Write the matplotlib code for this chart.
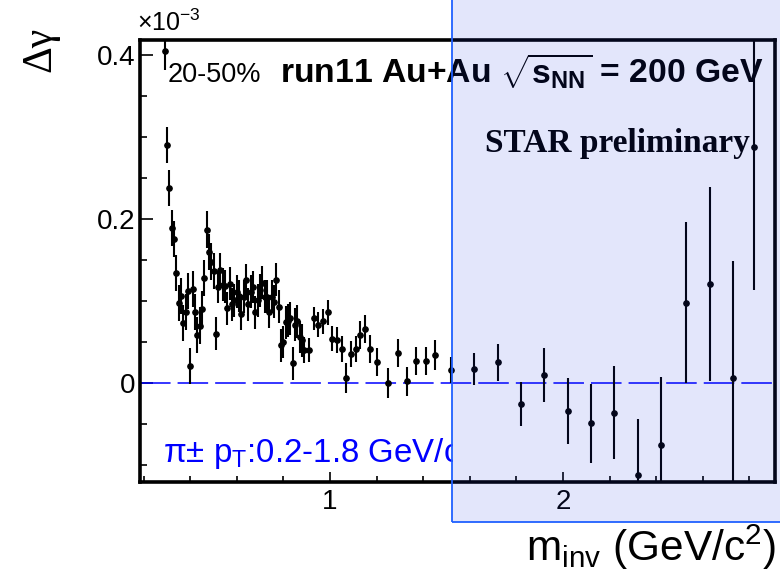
import matplotlib
matplotlib.use('Agg')
import matplotlib.pyplot as plt
import matplotlib.patches as patches
from matplotlib.ticker import MultipleLocator, FuncFormatter

plt.rcParams['font.family'] = ['Liberation Sans', 'DejaVu Sans']
plt.rcParams['mathtext.fontset'] = 'custom'
plt.rcParams['mathtext.rm'] = 'Liberation Sans'
plt.rcParams['mathtext.bf'] = 'Liberation Sans:bold'
plt.rcParams['mathtext.it'] = 'Liberation Sans:italic'

# invariant mass (GeV/c^2), 10 MeV bins at low mass
minv_low = [0.29, 0.30, 0.31, 0.32, 0.33, 0.34, 0.35, 0.36, 0.37, 0.38,
            0.39, 0.40, 0.41, 0.42, 0.43, 0.44, 0.45, 0.46, 0.47, 0.48,
            0.49, 0.50, 0.51, 0.52, 0.53, 0.54, 0.55, 0.56, 0.57, 0.58,
            0.59, 0.60, 0.61, 0.62, 0.63, 0.64, 0.65, 0.66, 0.67, 0.68,
            0.69, 0.70, 0.71, 0.72, 0.73, 0.74, 0.75, 0.76, 0.77, 0.78,
            0.79, 0.80, 0.81, 0.82, 0.83, 0.84, 0.85, 0.86, 0.87, 0.88,
            0.89]
dgam_low = [0.404, 0.290, 0.238, 0.189, 0.176, 0.134, 0.098, 0.106, 0.073, 0.086,
            0.112, 0.021, 0.114, 0.087, 0.059, 0.070, 0.090, 0.128, 0.187, 0.160,
            0.148, 0.136, 0.060, 0.117, 0.138, 0.120, 0.118, 0.091, 0.121, 0.096,
            0.101, 0.111, 0.106, 0.084, 0.105, 0.125, 0.096, 0.111, 0.117, 0.086,
            0.101, 0.113, 0.122, 0.105, 0.105, 0.087, 0.105, 0.099, 0.126, 0.093,
            0.046, 0.050, 0.074, 0.076, 0.079, 0.024, 0.071, 0.075, 0.056, 0.052,
            0.040]
err_low = [0.022, 0.022, 0.022, 0.022, 0.022, 0.022, 0.022, 0.022, 0.022, 0.022,
           0.022, 0.022, 0.022, 0.022, 0.022, 0.022, 0.022, 0.022, 0.022, 0.022,
           0.022, 0.022, 0.020, 0.020, 0.020, 0.020, 0.020, 0.020, 0.020, 0.020,
           0.020, 0.020, 0.020, 0.020, 0.020, 0.020, 0.020, 0.020, 0.020, 0.020,
           0.020, 0.020, 0.020, 0.020, 0.020, 0.020, 0.020, 0.020, 0.020, 0.020,
           0.020, 0.020, 0.020, 0.020, 0.020, 0.020, 0.020, 0.020, 0.020, 0.020,
           0.016]

# wider bins above 0.9 GeV/c^2
minv_high = [0.91, 0.93, 0.95, 0.97, 0.99, 1.01, 1.03, 1.05, 1.07, 1.09,
             1.11, 1.13, 1.15, 1.17, 1.20, 1.25, 1.29, 1.33, 1.37, 1.41,
             1.45, 1.52, 1.62, 1.72, 1.82, 1.92, 2.02, 2.12, 2.22, 2.32,
             2.42, 2.53, 2.63, 2.73, 2.82]
dgam_high = [0.040, 0.079, 0.071, 0.075, 0.086, 0.054, 0.052, 0.041, 0.006, 0.035,
             0.041, 0.058, 0.066, 0.041, 0.026, 0.000, 0.036, 0.002, 0.027, 0.027,
             0.034, 0.016, 0.017, 0.025, -0.026, 0.010, -0.034, -0.049, -0.036, -0.112,
             -0.075, 0.098, 0.121, 0.006, 0.288]
err_high = [0.015, 0.014, 0.015, 0.015, 0.015, 0.015, 0.016, 0.016, 0.018, 0.016,
            0.016, 0.017, 0.017, 0.017, 0.017, 0.018, 0.017, 0.018, 0.017, 0.017,
            0.018, 0.016, 0.019, 0.023, 0.027, 0.033, 0.040, 0.048, 0.057, 0.068,
            0.082, 0.098, 0.118, 0.143, 0.175]

W, H = 780, 573


def fx(px):
    return px / W


def fy(py):
    return 1 - py / H


fig = plt.figure(figsize=(7.8, 5.73), dpi=100)
ax = fig.add_axes([fx(140), fy(482), fx(775) - fx(140), fy(40) - fy(482)])

minv = minv_low + minv_high
dgam = dgam_low + dgam_high
err = err_low + err_high

ax.errorbar(minv, dgam, yerr=err, fmt='o', color='black', ms=3.8,
            elinewidth=1.5, capsize=0, zorder=3)
ax.axhline(0, color='blue', lw=1.1, dashes=(20, 4.6), zorder=2)

ax.set_xlim(0.1845, 2.91)
ax.set_ylim(-0.1207, 0.418)

ax.xaxis.set_major_locator(MultipleLocator(1))
ax.xaxis.set_minor_locator(MultipleLocator(0.2))
ax.yaxis.set_major_locator(MultipleLocator(0.2))
ax.yaxis.set_minor_locator(MultipleLocator(0.05))
ax.yaxis.set_major_formatter(FuncFormatter(lambda v, p: '0' if abs(v) < 1e-9 else '%.1f' % v))
ax.xaxis.set_major_formatter(FuncFormatter(lambda v, p: '%d' % round(v)))

ax.tick_params(which='both', direction='in', labelsize=20, width=1.2)
ax.tick_params(axis='y', which='major', length=9, pad=3)
ax.tick_params(axis='y', which='minor', length=5)
ax.tick_params(axis='x', which='major', length=7, pad=5)
ax.tick_params(axis='x', which='minor', length=4.5)
for s in ax.spines.values():
    s.set_linewidth(2.6)

# texts
fig.text(fx(137), fy(31), r'$\times$10$^{\mathregular{-3}}$', fontsize=18, ha='left', va='baseline')
fig.text(fx(40), fy(27), u'\u0394\u03b3', fontsize=30, rotation=90, ha='center', va='top',
         family='Liberation Serif')
fig.text(fx(776), fy(561), r'm$_{\mathregular{inv}}$ (GeV/c$^{\mathregular{2}}$)', fontsize=30.5,
         ha='right', va='baseline')
fig.text(fx(168), fy(82), '20-50%', fontsize=19.5, ha='left', va='baseline')
fig.text(fx(280), fy(83),
         r'run11 Au+Au $\sqrt{\mathbf{s}_{\mathbf{NN}}}$ = 200 GeV',
         fontsize=24.3, fontweight='bold', ha='left', va='baseline')
fig.text(fx(485), fy(152), 'STAR preliminary', fontsize=24, fontweight='bold',
         family='Liberation Serif', ha='left', va='baseline')
t = fig.text(fx(163), fy(462), u'\u03c0\u00b1 p$_{\mathregular{T}}$:0.2-1.8 GeV/c',
             fontsize=23.8, color='blue', ha='left', va='baseline')
t.set_clip_path(patches.Rectangle((0, 0), fx(453), 1, transform=fig.transFigure))

# highlighted region
box = patches.Rectangle((fx(452), fy(522)), 0.45, 1.0, transform=fig.transFigure,
                        facecolor=(0.1, 0.2, 0.9), alpha=0.12, edgecolor='none', zorder=10)
fig.add_artist(box)
edge = patches.Rectangle((fx(452), fy(522)), 0.45, 1.0, transform=fig.transFigure,
                         facecolor='none', edgecolor='#2060ff', lw=1.3, zorder=11)
fig.add_artist(edge)

fig.savefig('out.png', dpi=100)
